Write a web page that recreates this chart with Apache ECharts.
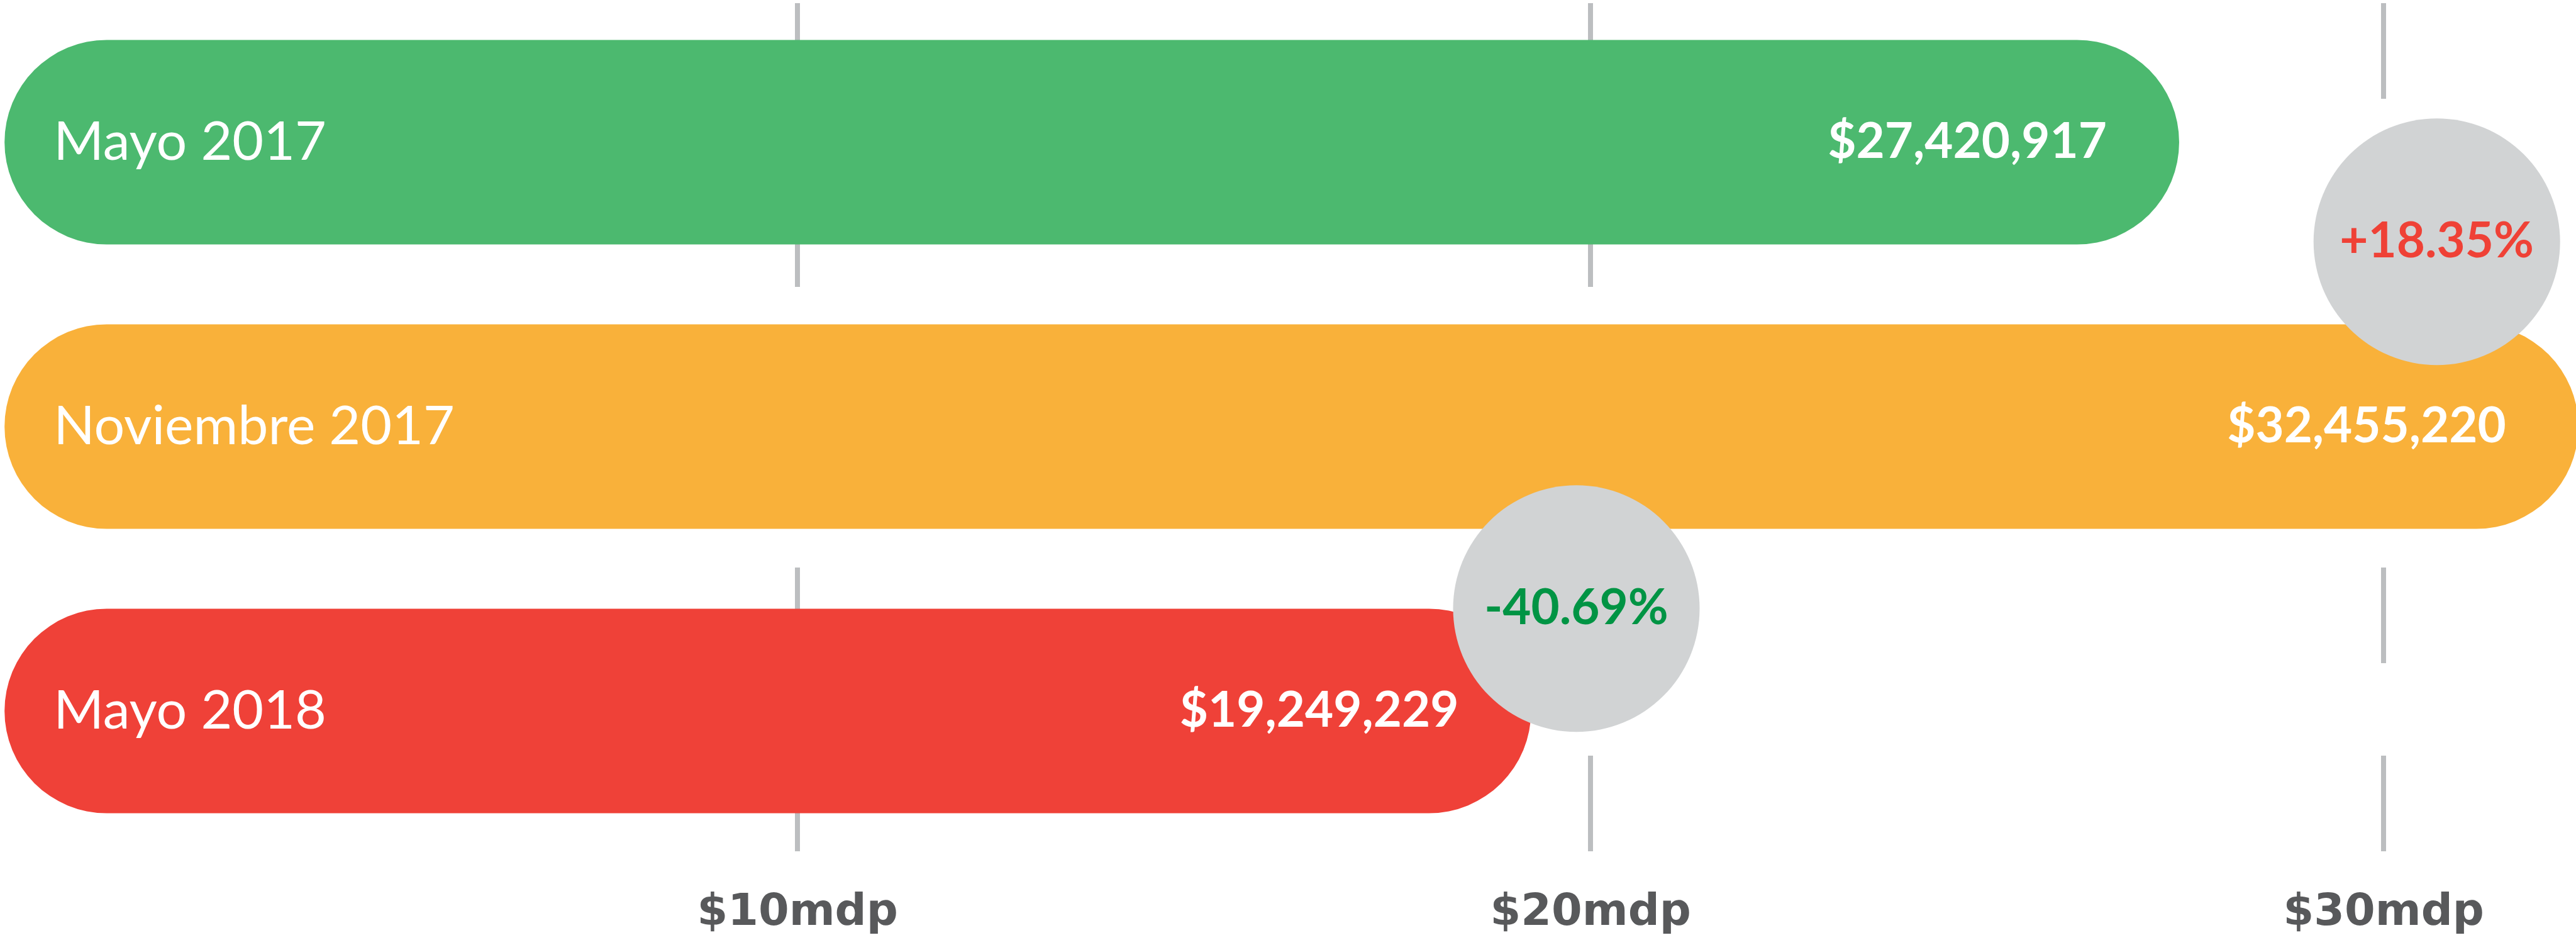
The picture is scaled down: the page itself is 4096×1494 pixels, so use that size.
<!DOCTYPE html>
<html>
<head>
<meta charset="utf-8">
<script src="https://cdn.jsdelivr.net/npm/echarts@6/dist/echarts.min.js"></script>
<style>
html,body{margin:0;padding:0;background:#fff;}
#chart{width:4096px;height:1494px;}
</style>
</head>
<body>
<div id="chart"></div>
<script>
// ---- data ----
const categories = ['Mayo 2017', 'Noviembre 2017', 'Mayo 2018'];
const values = [27420917, 32455220, 19249229];
const valueLabels = ['$27,420,917', '$32,455,220', '$19,249,229'];
const tickValues = [10000000, 20000000, 30000000];
const tickLabels = ['$10mdp', '$20mdp', '$30mdp'];
const changeLabels = ['+18.35%', '-40.69%'];
const changeX = [30670000, 19820000];   // bubble centre on value axis
const changeY = [0.35, 1.64];           // bubble centre in category units

// ---- styles ----
const barColors = ['#4CB96F', '#F9B13A', '#EF4138'];
const changeColors = ['#EF4136', '#009444'];

const chart = echarts.init(document.getElementById('chart'), null, {renderer: 'canvas'});

const option = {
  animation: false,
  backgroundColor: '#ffffff',
  grid: {left: 7.2, top: 0, right: 0, height: 1356, containLabel: false},
  xAxis: {
    type: 'value',
    min: 0,
    max: 32425000,
    interval: 10000000,
    axisLine: {show: false},
    axisTick: {show: false},
    splitLine: {
      show: true,
      showMinLine: false,
      showMaxLine: false,
      lineStyle: {color: '#BCBEC0', width: 8, type: [152, 147], dashOffset: -5}
    },
    axisLabel: {
      show: true,
      showMinLabel: false,
      showMaxLabel: false,
      margin: 61,
      fontFamily: 'DejaVu Sans',
      fontWeight: 'bold',
      fontSize: 70,
      color: '#58595B',
      formatter: function (v) {
        const i = tickValues.indexOf(v);
        return i >= 0 ? tickLabels[i] : '';
      }
    }
  },
  yAxis: [{
    type: 'category',
    data: categories,
    inverse: true,
    z: 10,
    axisLine: {show: false},
    axisTick: {show: false},
    splitLine: {show: false},
    axisLabel: {
      inside: true,
      margin: 78,
      fontFamily: 'Lato',
      fontSize: 86,
      color: '#ffffff'
    }
  }, {
    type: 'value',
    min: -0.5,
    max: 2.5,
    inverse: true,
    show: false
  }],
  series: [{
    type: 'bar',
    xAxisIndex: 0,
    yAxisIndex: 0,
    barWidth: 325,
    clip: false,
    z: 2,
    data: values.map((v, i) => ({value: v, itemStyle: {color: barColors[i], borderRadius: 162.5}})),
    label: {
      show: true,
      position: 'insideRight',
      distance: 115,
      fontFamily: 'Lato',
      fontWeight: 'bold',
      fontSize: 78,
      color: '#ffffff',
      formatter: p => valueLabels[p.dataIndex]
    }
  }, {
    type: 'scatter',
    xAxisIndex: 0,
    yAxisIndex: 1,
    z: 5,
    clip: false,
    symbol: 'circle',
    symbolSize: 392,
    itemStyle: {color: '#D1D3D4', opacity: 1},
    data: changeX.map((x, i) => ({
      value: [x, changeY[i]],
      label: {color: changeColors[i]}
    })),
    label: {
      show: true,
      position: 'inside',
      fontFamily: 'Lato',
      fontWeight: 'bold',
      fontSize: 78,
      formatter: p => changeLabels[p.dataIndex]
    },
    emphasis: {disabled: true}
  }]
};
chart.setOption(option);
</script>
</body>
</html>
